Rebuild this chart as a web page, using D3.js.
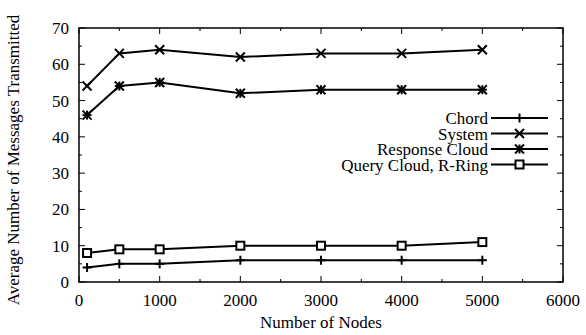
<!DOCTYPE html>
<html>
<head>
<meta charset="utf-8">
<script src="https://cdn.jsdelivr.net/npm/d3@7"></script>
<style>
  body { margin: 0; background: #fff; }
  text { font-family: "Liberation Serif", "DejaVu Serif", serif; fill: #000; }
</style>
</head>
<body>
<svg id="chart" width="586" height="335"></svg>
<script>
// data
const nodes = [100, 500, 1000, 2000, 3000, 4000, 5000];
const chord = [4, 5, 5, 6, 6, 6, 6];
const system = [54, 63, 64, 62, 63, 63, 64];
const responseCloud = [46, 54, 55, 52, 53, 53, 53];
const queryCloud = [8, 9, 9, 10, 10, 10, 11];
const seriesNames = ['Chord', 'System', 'Response Cloud', 'Query Cloud, R-Ring'];
const seriesMarks = ['plus', 'cross', 'star', 'square'];
const xTicks = [0, 1000, 2000, 3000, 4000, 5000, 6000];
const yTicks = [0, 10, 20, 30, 40, 50, 60, 70];

const series = [chord, system, responseCloud, queryCloud].map((vals, i) => ({
    name: seriesNames[i],
    mark: seriesMarks[i],
    pts: vals.map((v, j) => [nodes[j], v])
}));

const plotL = 79, plotR = 563, plotT = 28, plotB = 282;
const fs = 17;
const svg = d3.select('#chart');

const x = d3.scaleLinear().domain([0, 6000]).range([plotL, plotR]);
const y = d3.scaleLinear().domain([0, 70]).range([plotB, plotT]);

// minor ticks on all four sides (gnuplot mirrors them)
const g = svg.append('g').attr('stroke', '#000').attr('stroke-width', 1);
d3.range(0, 6001, 500).forEach((v) => {
    let len = v % 1000 === 0 ? 6 : 3;
    g.append('line').attr('x1', x(v)).attr('x2', x(v)).attr('y1', plotB).attr('y2', plotB - len);
    g.append('line').attr('x1', x(v)).attr('x2', x(v)).attr('y1', plotT).attr('y2', plotT + len);
});
d3.range(0, 71, 5).forEach((v) => {
    let len = v % 10 === 0 ? 6 : 3;
    g.append('line').attr('y1', y(v)).attr('y2', y(v)).attr('x1', plotL).attr('x2', plotL + len);
    g.append('line').attr('y1', y(v)).attr('y2', y(v)).attr('x1', plotR).attr('x2', plotR - len);
});

svg.append('rect')
    .attr('x', plotL).attr('y', plotT)
    .attr('width', plotR - plotL).attr('height', plotB - plotT)
    .attr('fill', 'none').attr('stroke', '#000').attr('stroke-width', 1.5);

// tick labels
svg.selectAll('.xl').data(xTicks).enter().append('text')
    .attr('x', (d) => x(d)).attr('y', 306)
    .attr('text-anchor', 'middle').attr('font-size', fs)
    .text((d) => d);
svg.selectAll('.yl').data(yTicks).enter().append('text')
    .attr('x', 69).attr('y', (d) => y(d) + 6)
    .attr('text-anchor', 'end').attr('font-size', fs)
    .text((d) => d);

svg.append('text')
    .attr('x', (plotL + plotR) / 2).attr('y', 328)
    .attr('text-anchor', 'middle').attr('font-size', fs)
    .text('Number of Nodes');
svg.append('text')
    .attr('transform', `translate(19,${(plotT + plotB) / 2 + 5}) rotate(-90)`)
    .attr('text-anchor', 'middle').attr('font-size', fs)
    .text('Average Number of Messages Transmitted');

function drawMark(sel, type, cx, cy) {
    let s = 4.5;
    let p = sel.append('g').attr('transform', `translate(${cx},${cy})`)
        .attr('stroke', '#000').attr('stroke-width', 2).attr('fill', 'none');
    if (type === 'plus' || type === 'star') {
        p.append('line').attr('x1', -s).attr('x2', s).attr('y1', 0).attr('y2', 0);
        p.append('line').attr('x1', 0).attr('x2', 0).attr('y1', -s).attr('y2', s);
    }
    if (type === 'cross' || type === 'star') {
        p.append('line').attr('x1', -s).attr('x2', s).attr('y1', -s).attr('y2', s);
        p.append('line').attr('x1', -s).attr('x2', s).attr('y1', s).attr('y2', -s);
    }
    if (type === 'square') {
        p.append('rect').attr('x', -s + 0.5).attr('y', -s + 0.5)
            .attr('width', 2 * s - 1).attr('height', 2 * s - 1).attr('fill', '#fff');
    }
}

const line = d3.line().x((d) => x(d[0])).y((d) => y(d[1]));

series.forEach((s) => {
    svg.append('path').datum(s.pts)
        .attr('d', line)
        .attr('fill', 'none').attr('stroke', '#000').attr('stroke-width', 2);
    s.pts.forEach((p) => drawMark(svg, s.mark, x(p[0]), y(p[1])));
});

// legend
const legY = [118, 133.5, 149, 164.5];
series.forEach((s, i) => {
    svg.append('text')
        .attr('x', 488).attr('y', legY[i] + 6)
        .attr('text-anchor', 'end').attr('font-size', fs)
        .text(s.name);
    svg.append('line')
        .attr('x1', 491).attr('x2', 548).attr('y1', legY[i]).attr('y2', legY[i])
        .attr('stroke', '#000').attr('stroke-width', 2);
    drawMark(svg, s.mark, 519.5, legY[i]);
});
</script>
</body>
</html>
